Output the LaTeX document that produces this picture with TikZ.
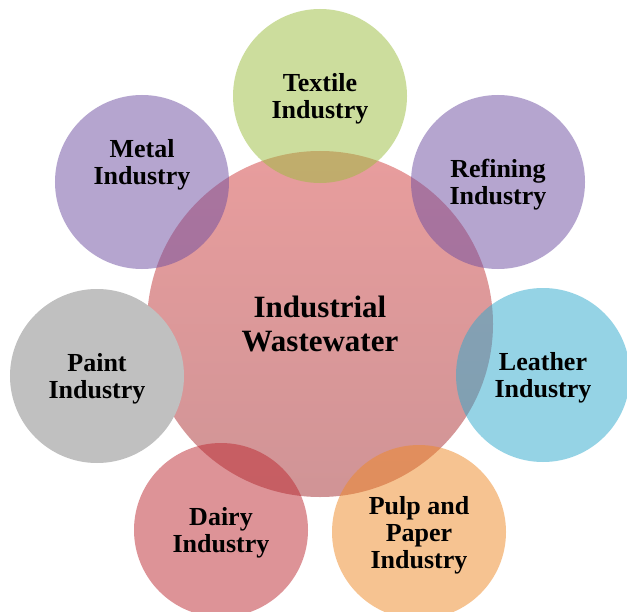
\documentclass[tikz,border=0pt]{standalone}
\usepackage{fontspec}
\setmainfont{Liberation Serif}
\usetikzlibrary{shapes.geometric,positioning}
\definecolor{hubtop}{RGB}{232,157,157}
\definecolor{hubbot}{RGB}{208,148,150}
\definecolor{textilec}{RGB}{155,189,61}
\definecolor{metalc}{RGB}{109,77,161}
\definecolor{leatherc}{RGB}{45,169,205}
\definecolor{dairyc}{RGB}{189,41,49}
\definecolor{pulpc}{RGB}{239,137,37}
\definecolor{paintc}{RGB}{192,192,192}
\tikzset{hub/.style={circle,draw=none,minimum size=346bp,inner sep=0pt,top color=hubtop,bottom color=hubbot},
         petal/.style={circle,draw=none,minimum size=174bp,inner sep=0pt,fill opacity=0.5},
         solid petal/.style={circle,draw=none,minimum size=174bp,inner sep=0pt},
         petal text/.style={rectangle,draw=none,fill=none,align=center,inner sep=0pt,yshift=-3bp,font=\bfseries\fontsize{26bp}{27bp}\selectfont},
         hub text/.style={rectangle,draw=none,fill=none,align=center,inner sep=0pt,font=\bfseries\fontsize{31bp}{34bp}\selectfont},
}

\begin{document}
\begin{tikzpicture}[x=1bp,y=-1bp]
% \draw[help lines,step=50] (0,0) grid (627,612);
\useasboundingbox (0,0) rectangle (627,612);
\fill[white] (0,0) rectangle (627,612);
\node[hub] (ww) at (320,324) {};
\node[petal,fill=textilec] (textile) at (320,96) {};
\node[petal,fill=metalc] (metal) at (142,182) {};
\node[petal,fill=metalc] (refining) at (498,182) {};
\node[solid petal,fill=paintc] (paint) at (97,376) {};
\node[petal,fill=leatherc] (leather) at (543,375) {};
\node[petal,fill=dairyc] (dairy) at (221,530) {};
\node[petal,fill=pulpc] (pulp) at (419,532) {};

\node[hub text] at (ww) {Industrial\\Wastewater};
\node[petal text] at (textile) {Textile\\Industry};
\node[petal text,yshift=20bp] at (metal) {Metal\\Industry};
\node[petal text] at (refining) {Refining\\Industry};
\node[petal text] at (paint) {Paint\\Industry};
\node[petal text] at (leather) {Leather\\Industry};
\node[petal text] at (dairy) {Dairy\\Industry};
\node[petal text] at (pulp) {Pulp and\\Paper\\Industry};
\end{tikzpicture}
\end{document}
